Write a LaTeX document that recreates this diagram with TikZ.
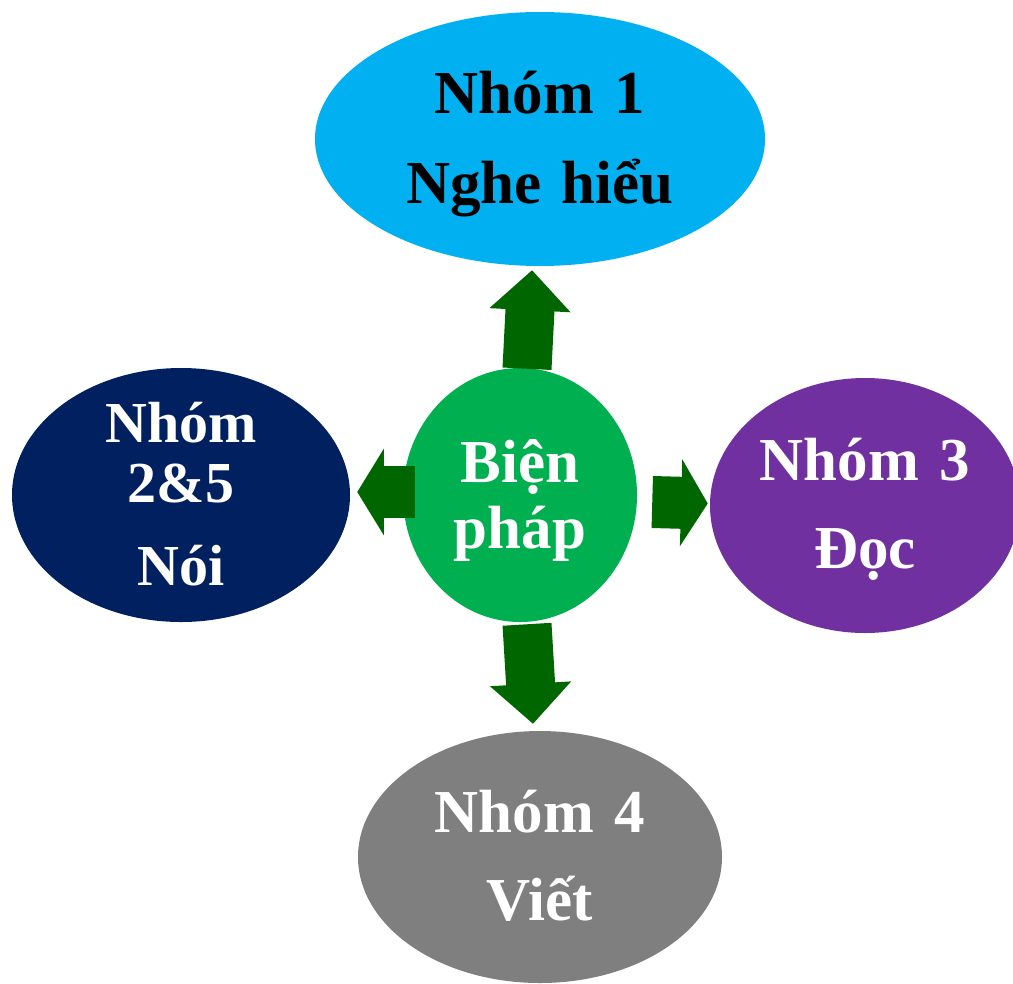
\documentclass[tikz,border=0pt]{standalone}
\usepackage{fontspec}
\setmainfont{Liberation Serif}
\usetikzlibrary{shapes.geometric,arrows.meta,calc}

\definecolor{grpblue}{HTML}{00B0F0}
\definecolor{grpnavy}{HTML}{002060}
\definecolor{hubgreen}{HTML}{00B050}
\definecolor{grppurple}{HTML}{7030A0}
\definecolor{grpgray}{HTML}{7F7F7F}
\definecolor{arrowgreen}{HTML}{006600}

\tikzset{
  grp/.style={ellipse, inner sep=0pt, text=white, align=center, text height=0pt},
  bigfont/.style={font={\fontsize{45.75pt}{66pt}\selectfont\bfseries\lineskiplimit=-50pt}},
  vflow/.style={arrowgreen, line width=36.75pt, -{Triangle[length=30pt,width=60.75pt,line width=1.5pt]}},
  hflow/.style={arrowgreen, line width=39pt, -{Triangle[length=20pt,width=65pt,line width=1.5pt]}},
}

\begin{document}
\begin{tikzpicture}[x=0.75pt, y=-0.75pt]
  \useasboundingbox (0,0) rectangle (1013,983);

  % groups round the hub
  \node[grp, bigfont, fill=grpblue, text=black, minimum width=337.5pt, minimum height=190.5pt,
        text width=210pt, text depth=39pt,
        font={\fontsize{45.75pt}{67.5pt}\selectfont\bfseries}] (g1) at (540,139) {Nhóm 1\\Nghe hiểu};
  \node[grp, fill=grpnavy, minimum width=253.5pt, minimum height=190.5pt,
        text width=120pt, text depth=79.5pt,
        font={\fontsize{43.5pt}{45pt}\selectfont\bfseries\lineskiplimit=-50pt}] (g2) at (181,495) {Nhóm\\2\&5\\[17.25pt]Nói};
  \node[grp, bigfont, fill=grppurple, minimum width=232.5pt, minimum height=191.25pt,
        text width=160pt, text depth=38.25pt] (g3) at (865,505.5) {Nhóm 3\\Đọc};
  \node[grp, bigfont, fill=grpgray, minimum width=273pt, minimum height=189pt,
        text width=160pt, text depth=37.5pt] (g4) at (540,857) {Nhóm 4\\Viết};

  \node[grp, fill=hubgreen, minimum width=175.5pt, minimum height=190.5pt,
        text width=105pt, text depth=19.5pt,
        font={\fontsize{45.75pt}{49.5pt}\selectfont\bfseries\lineskiplimit=-50pt}] (hub) at (520,495) {Biện\\pháp};

  % arrows out of the hub
  \draw[vflow] ($(hub.north)+(7,1)$) -- ($(g1.south)+(-8,4)$);
  \draw[vflow] ($(hub.south)+(7,2)$) -- ($(g4.north)+(-7,-7)$);
  \draw[hflow] ($(hub.west)+(12,-3)$) -- ($(g2.east)+(7,-3)$);
  \draw[hflow] ($(hub.east)+(15,7)$) -- ($(g3.west)+(-2,-2)$);
\end{tikzpicture}
\end{document}
